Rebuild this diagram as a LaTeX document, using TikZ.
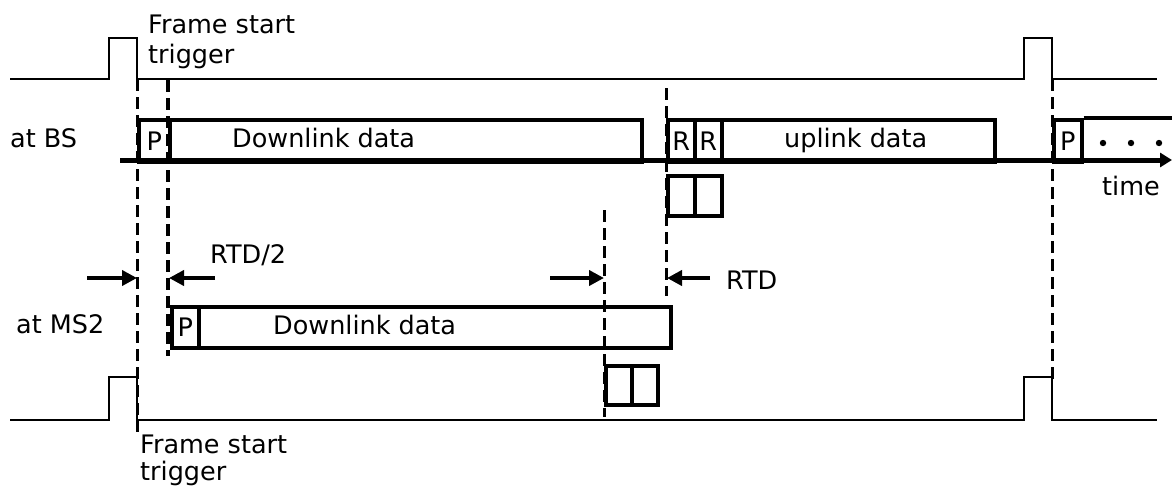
\documentclass[tikz,border=0pt]{standalone}
\usepackage{fontspec}
\setmainfont{DejaVu Sans}
\usetikzlibrary{arrows.meta}
\begin{document}
\begin{tikzpicture}[x=1pt,y=-1pt,
  lbl/.style={font=\fontsize{25.5}{30}\selectfont, inner sep=0pt, anchor=base west},
  sig/.style={line width=2.5pt, line join=miter},
  slot/.style={draw, line width=3.5pt, inner sep=0pt, anchor=north west,
               font=\fontsize{25.5}{30}\selectfont, minimum height=42pt},
  subslot/.style={slot, minimum height=40pt},
  axis/.style={line width=5pt, -{Triangle[length=12pt,width=14pt]}},
  guide/.style={line width=3pt, dash pattern=on 12pt off 6pt},
  guidebold/.style={line width=4pt, dash pattern=on 12pt off 6pt},
  gap/.style={line width=4.5pt, -{Triangle[length=15pt,width=15pt]}}]

\useasboundingbox (0,0) rectangle (1172,488);

% trigger pulses of the base station and of the mobile station
\draw[sig] (10,79) -- (109,79) -- (109,38) -- (137,38) -- (137,79) -- (1024,79)
           -- (1024,38) -- (1052,38) -- (1052,79) -- (1157,79);
\draw[sig] (10,420) -- (109,420) -- (109,377) -- (137,377) -- (137,420) -- (1024,420)
           -- (1024,377) -- (1052,377) -- (1052,420) -- (1157,420);

\node[lbl] (ftop1) at (148,33) {Frame start};
\node[lbl] (ftop2) at (148,63) {trigger};
\node[lbl] (fbot1) at (140,453) {Frame start};
\node[lbl] (fbot2) at (140,480) {trigger};

% base station frame
\node[lbl] (bs) at (10,147) {at BS};
\coordinate (axs) at (120,160);
\coordinate (axe) at (1172,160);
\draw[axis] (axs) -- (axe);
\node[lbl] (time) at (1102,195) {time};

\node[slot, minimum width=31pt] (p1) at (137,118) {P};
\node[slot, minimum width=472pt] (dl1) at (168,118) {};
\node[lbl] (dl1t) at (232,147) {Downlink data};
\node[slot, minimum width=27pt] (r1) at (666,118) {R};
\node[slot, minimum width=27pt] (r2) at (693,118) {R};
\node[slot, minimum width=273pt] (ul) at (720,118) {};
\node[lbl] (ult) at (784,147) {uplink data};
\node[slot, minimum width=28pt] (p3) at (1052,118) {P};
\coordinate (p3end) at (1172,118);
\draw[line width=3.5pt] (p3.north east) -- (p3end);
\foreach \x/\n in {1103/a,1131/b,1159/c}
  \fill (\x,143) circle (3.2pt) coordinate (dot\n);

\node[subslot, minimum width=27pt] (rs1) at (666,174) {};
\node[subslot, minimum width=27pt] (rs2) at (693,174) {};

% mobile station frame
\node[lbl] (ms) at (16,333) {at MS2};
\node[slot, minimum width=27pt, minimum height=41pt] (p2) at (170,305) {P};
\node[slot, minimum width=472pt, minimum height=41pt] (dl2) at (197,305) {};
\node[lbl] (dl2t) at (273,334) {Downlink data};
\node[subslot, minimum width=26pt, minimum height=39pt] (ms1) at (604,364) {};
\node[subslot, minimum width=26pt, minimum height=39pt] (ms2) at (630,364) {};

% timing guides
\coordinate (g1a) at (137,79);  \coordinate (g1b) at (137,432);
\coordinate (g2a) at (168,80);  \coordinate (g2b) at (168,356);
\coordinate (g3a) at (666,88);  \coordinate (g3b) at (666,296);
\coordinate (g4a) at (604,210); \coordinate (g4b) at (604,417);
\coordinate (g5a) at (1052,79); \coordinate (g5b) at (1052,382);
\draw[guide] (g1a) -- (g1b);
\draw[guidebold] (g2a) -- (g2b);
\draw[guide] (g3a) -- (g3b);
\draw[guide] (g4a) -- (g4b);
\draw[guide] (g5a) -- (g5b);

% delay markers
\coordinate (a1) at (87,278);  \coordinate (a1t) at (137,278);
\coordinate (a2) at (215,278); \coordinate (a2t) at (169,278);
\coordinate (a3) at (550,278); \coordinate (a3t) at (604,278);
\coordinate (a4) at (710,278); \coordinate (a4t) at (667,278);
\draw[gap] (a1) -- (a1t);
\draw[gap] (a2) -- (a2t);
\draw[gap] (a3) -- (a3t);
\draw[gap] (a4) -- (a4t);
\node[lbl] (rtd2) at (210,263) {RTD/2};
\node[lbl] (rtd) at (726,289) {RTD};
\end{tikzpicture}
\end{document}
